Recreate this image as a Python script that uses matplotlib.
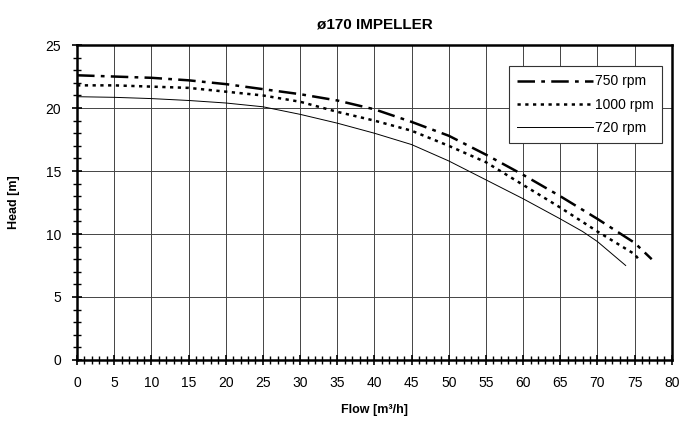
import matplotlib
matplotlib.use("Agg")
import matplotlib.pyplot as plt
from matplotlib.ticker import MultipleLocator

plt.rcParams['font.family'] = ['Liberation Sans', 'DejaVu Sans']

# curve data
x_750 = [0, 5, 10, 15, 20, 25, 30, 35, 40, 45, 50, 55, 60, 65, 70, 75, 77.3]
h_750 = [22.6, 22.5, 22.4, 22.2, 21.9, 21.5, 21.1, 20.6, 19.9, 18.9, 17.8, 16.3, 14.7, 13.0, 11.2, 9.3, 8.0]

x_1000 = [0, 5, 10, 15, 20, 25, 30, 35, 40, 45, 50, 55, 60, 65, 70, 75, 75.8]
h_1000 = [21.8, 21.8, 21.7, 21.6, 21.3, 21.0, 20.5, 19.7, 19.0, 18.2, 17.0, 15.7, 13.9, 12.1, 10.2, 8.4, 7.8]

x_720 = [0, 5, 10, 15, 20, 25, 30, 35, 40, 45, 50, 55, 60, 65, 68, 70, 73.8]
h_720 = [20.9, 20.85, 20.75, 20.6, 20.4, 20.1, 19.5, 18.8, 18.0, 17.1, 15.8, 14.3, 12.8, 11.2, 10.2, 9.4, 7.5]

fig = plt.figure(figsize=(6.82, 4.25), dpi=100)
ax = fig.add_axes([0.113, 0.153, 0.872, 0.741])

ax.plot(x_750, h_750, color='black', lw=1.8, dashes=(7, 2.5, 1.5, 2.5), label='750 rpm')
ax.plot(x_1000, h_1000, color='black', lw=1.8, dashes=(1.3, 1.8), label='1000 rpm')
ax.plot(x_720, h_720, color='black', lw=0.7, label='720 rpm')

ax.set_xlim(0, 80)
ax.set_ylim(0, 25)
ax.xaxis.set_major_locator(MultipleLocator(5))
ax.xaxis.set_minor_locator(MultipleLocator(1))
ax.yaxis.set_major_locator(MultipleLocator(5))
ax.yaxis.set_minor_locator(MultipleLocator(1))
ax.grid(True, which='major', color='#444444', lw=0.7)
ax.set_axisbelow(True)

ax.tick_params(which='both', direction='inout', colors='black', labelsize=10)
ax.tick_params(which='major', length=7, width=1.2, pad=8)
ax.tick_params(which='minor', length=6, width=1)
for s in ax.spines.values():
    s.set_linewidth(1.8)

ax.set_title('ø170 IMPELLER', fontsize=11, fontweight='bold', pad=12)
ax.set_xlabel('Flow [m³/h]', fontsize=9, fontweight='bold', labelpad=10)
ax.set_ylabel('Head [m]', fontsize=9, fontweight='bold', labelpad=18)

leg = ax.legend(loc='upper right', bbox_to_anchor=(0.995, 0.955), fontsize=10,
                handlelength=5.5, handletextpad=0.1, fancybox=False,
                framealpha=1, edgecolor='#333333', borderpad=0.6, labelspacing=0.65)
leg.get_frame().set_linewidth(0.8)

fig.savefig('out.png', dpi=100)
